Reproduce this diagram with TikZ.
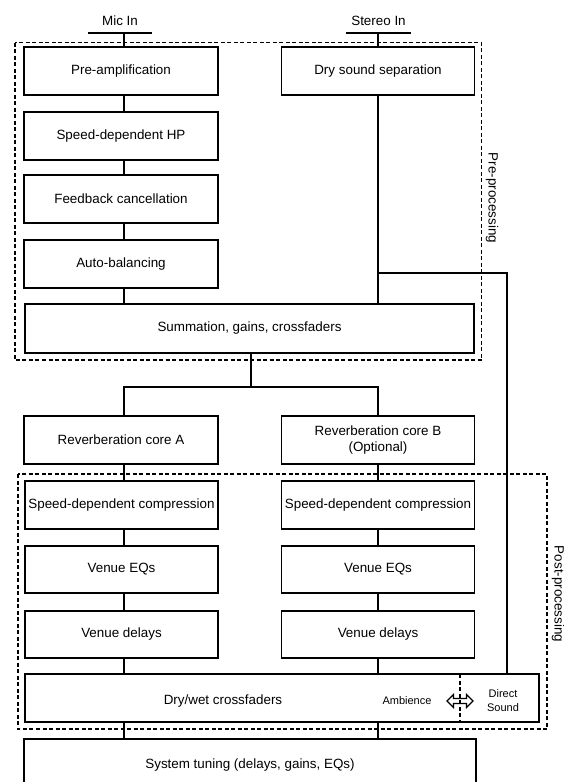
\documentclass[tikz,border=0pt]{standalone}
\usepackage{fontspec}
\setmainfont{Liberation Sans}
\usetikzlibrary{calc}
\tikzset{
  box/.style={draw, line width=1.4pt, rectangle, inner sep=0pt, outer sep=0pt, align=center, font=\fontsize{13.4}{15.5}\selectfont},
  colbox/.style={box, minimum width=194pt, minimum height=48pt},
  conn/.style={line width=1.4pt},
  grp/.style={line width=1.3pt, dash pattern=on 4pt off 2.5pt},
  lbl/.style={inner sep=0pt, font=\fontsize{13.4}{15.5}\selectfont},
  small/.style={inner sep=0pt, align=center, font=\fontsize{11}{14}\selectfont},
}
\begin{document}
\begin{tikzpicture}[x=1pt,y=-1pt]
\useasboundingbox (0,0) rectangle (564,782);
% groups
\draw[grp] (15,42.5) rectangle (481.5,360);
\draw[grp] (18,474) rectangle (547,729);
\node[lbl, rotate=-90] (prelbl) at (492,198) {Pre-processing};
\node[lbl, rotate=-90] (postlbl) at (558,594) {Post-processing};
% inputs
\node[lbl] (mic) at (120,21) {Mic In};
\node[lbl] (st) at (378.5,21) {Stereo In};
\coordinate (micL) at (88,33); \coordinate (micR) at (152,33);
\coordinate (stL) at (346,33); \coordinate (stR) at (411,33);
\coordinate (L) at (124,0);
\coordinate (R) at (507,0);
% boxes
\node[colbox] (pre) at (121,71) {Pre-amplification};
\node[colbox] (hp) at (121,136) {Speed-dependent HP};
\node[colbox] (fb) at (121,199) {Feedback cancellation};
\node[colbox] (ab) at (121,264) {Auto-balancing};
\node[box, minimum width=449pt, minimum height=49pt] (sum) at (249.5,328.5) {Summation, gains, crossfaders};
\node[colbox, minimum width=193pt] (dry) at (378,71) {Dry sound separation};
\node[colbox] (revA) at (121,440) {Reverberation core A};
\node[colbox, minimum width=193pt] (revB) at (378,440) {Reverberation core B\\(Optional)};
\node[colbox, minimum width=193pt] (compA) at (121.5,505) {Speed-dependent compression};
\node[colbox, minimum width=193pt] (compB) at (378,505) {Speed-dependent compression};
\node[colbox, minimum width=193pt, minimum height=47pt] (eqA) at (121.5,569.5) {Venue EQs};
\node[colbox, minimum width=193pt, minimum height=47pt] (eqB) at (378,569.5) {Venue EQs};
\node[colbox, minimum width=193pt, minimum height=47pt] (delA) at (121.5,634.5) {Venue delays};
\node[colbox, minimum width=193pt, minimum height=47pt] (delB) at (378,634.5) {Venue delays};
\node[box, minimum width=514pt, minimum height=48pt] (dw) at (282,698) {};
\node[lbl] (dwt) at (223,701) {Dry/wet crossfaders};
\node[small] (amb) at (407,701) {Ambience};
\node[small] (dsd) at (503,701) {Direct\\Sound};
\node[box, minimum width=452pt, minimum height=52pt] (sys) at (250,765) {System tuning (delays, gains, EQs)};
% input lines
\draw[conn] (micL) -- (micR);
\draw[conn] (stL) -- (stR);
\draw[conn] (micL -| L) -- (pre.north -| L);
\draw[conn] (stL -| dry.north) -- (dry.north);
% left chain
\draw[conn] (pre.south -| L) -- (hp.north -| L);
\draw[conn] (hp.south -| L) -- (fb.north -| L);
\draw[conn] (fb.south -| L) -- (ab.north -| L);
\draw[conn] (ab.south -| L) -- (sum.north -| L);
% stereo path
\draw[conn] (dry.south) -- (dry.south |- sum.north);
\coordinate (br) at (378,273);
\draw[conn] (br) -| (dw.north -| R);
% split to reverb cores
\coordinate (split) at (251,387);
\draw[conn] (sum.south -| split) -- (split);
\draw[conn] (revA.north -| L) |- (split) -| (revB.north);
% post chains
\draw[conn] (revA.south -| L) -- (compA.north -| L);
\draw[conn] (compA.south -| L) -- (eqA.north -| L);
\draw[conn] (eqA.south -| L) -- (delA.north -| L);
\draw[conn] (delA.south -| L) -- (dw.north -| L);
\draw[conn] (revB.south) -- (compB.north);
\draw[conn] (compB.south) -- (eqB.north);
\draw[conn] (eqB.south) -- (delB.north);
\draw[conn] (delB.south) -- (dw.north -| delB.south);
\draw[conn] (dw.south -| L) -- (sys.north -| L);
\draw[conn] (dw.south -| delB.south) -- (sys.north -| delB.south);
% divider and double arrow
\coordinate (dv) at (460,0);
\draw[grp] (dw.north -| dv) -- (dw.south -| dv);
\draw[line width=1.2pt, line join=miter] (447,701) -- (453.5,694.5) -- (453.5,698.5) -- (466.5,698.5) -- (466.5,694.5) -- (473,701) -- (466.5,707.5) -- (466.5,703.5) -- (453.5,703.5) -- (453.5,707.5) -- cycle;
\end{tikzpicture}
\end{document}
